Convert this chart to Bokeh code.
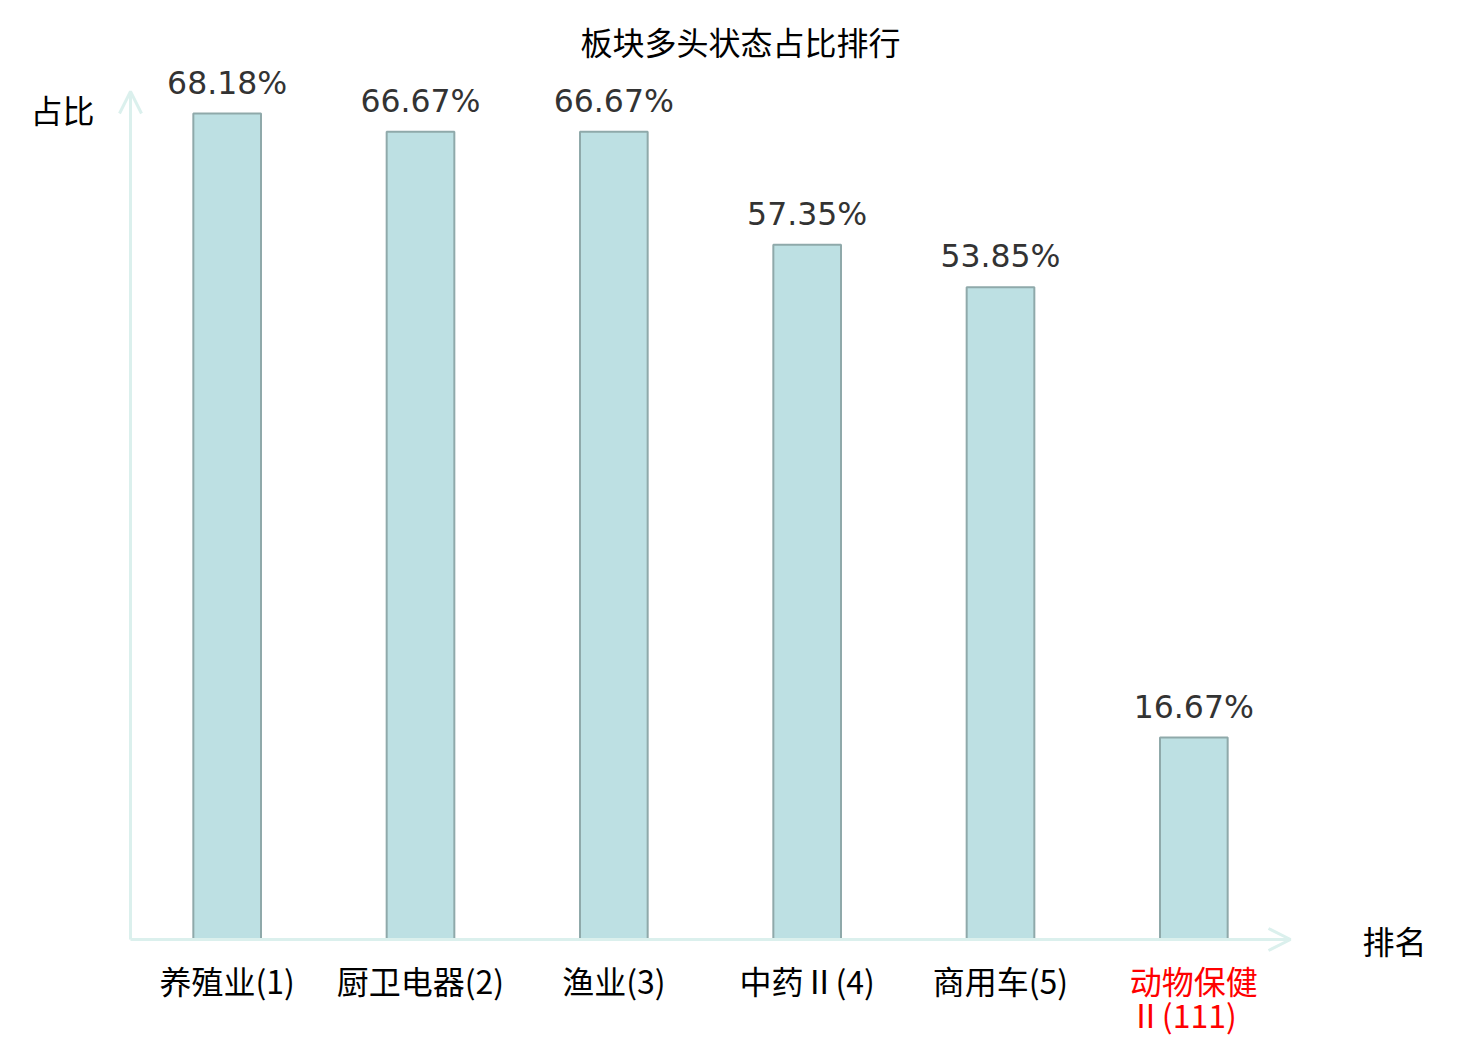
from bokeh.plotting import figure
from bokeh.models import ColumnDataSource, LabelSet, Label, Arrow, OpenHead, Range1d
from bokeh.embed import file_html
from bokeh.resources import INLINE
from bokeh.core.properties import value

# ---- data ----
title_text = "板块多头状态占比排行"
y_axis_title = "占比"
x_axis_title = "排名"
sectors = ["养殖业", "厨卫电器", "渔业", "中药Ⅱ", "商用车", "动物保健Ⅱ"]
ranks = [1, 2, 3, 4, 5, 111]
ratios = [68.18, 66.67, 66.67, 57.35, 53.85, 16.67]
tick_labels = ["养殖业(1)", "厨卫电器(2)", "渔业(3)", "中药Ⅱ(4)", "商用车(5)", "动物保健\nⅡ(111)"]
highlight_index = 5
y_max = 70

# ---- layout (pixels) ----
W, H = 1472, 1038
PLOT_LEFT, PLOT_RIGHT, PLOT_TOP, PLOT_BOTTOM = 130, 1290, 91, 939

n = len(sectors)
categories = [f"{s}({r})" for s, r in zip(sectors, ranks)]
xs = list(range(n))
label_colors = ["#ff0000" if i == highlight_index else "#000000" for i in range(n)]

ux = (PLOT_RIGHT - PLOT_LEFT) / n          # pixels per category
uy = (PLOT_BOTTOM - PLOT_TOP) / y_max      # pixels per percent
x_left_edge, x_right_edge = -0.5, n - 0.5
x_range = Range1d(x_left_edge - PLOT_LEFT / ux, x_right_edge + (W - PLOT_RIGHT) / ux)
y_range = Range1d(-(H - PLOT_BOTTOM) / uy, y_max + PLOT_TOP / uy)

src = ColumnDataSource(dict(
    x=xs,
    cat=categories,
    ratio=ratios,
    vlabel=[f"{v:.2f}%" for v in ratios],
    tlabel=tick_labels,
    zero=[0] * n,
    tcolor=label_colors,
))

CJK = "Noto Sans CJK SC"
axis_color = "#dbf0ed"

p = figure(
    width=W, height=H,
    x_range=x_range, y_range=y_range,
    x_axis_location=None, y_axis_location=None,
    output_backend="svg", toolbar_location=None,
    min_border=0, min_border_left=0, min_border_right=0,
    min_border_top=0, min_border_bottom=0,
    title=None,
)
p.outline_line_color = None
p.xgrid.visible = False
p.ygrid.visible = False
p.background_fill_color = "white"
p.border_fill_color = "white"

p.vbar(x="x", top="ratio", width=0.35, source=src,
       fill_color="#bde0e3", line_color="#8fa9aa", line_width=2)

# axes drawn as arrows
p.add_layout(Arrow(x_start=x_left_edge, y_start=0, x_end=x_right_edge, y_end=0,
                   line_color=axis_color, line_width=3, start=None,
                   end=OpenHead(size=22, line_color=axis_color, line_width=3)))
p.add_layout(Arrow(x_start=x_left_edge, y_start=0, x_end=x_left_edge, y_end=y_max,
                   line_color=axis_color, line_width=3, start=None,
                   end=OpenHead(size=22, line_color=axis_color, line_width=3)))

# value labels
p.add_layout(LabelSet(x="x", y="ratio", text="vlabel", source=src,
                      y_offset=20, text_align="center", text_baseline="alphabetic",
                      text_font=value("DejaVu Sans"), text_font_size="31.5px",
                      text_color="#333333"))

# category labels
p.add_layout(LabelSet(x="x", y="zero", text="tlabel", source=src,
                      y_offset=-17, text_align="center", text_baseline="top",
                      text_font=value(CJK), text_font_size="32px",
                      text_color="tcolor", text_line_height=0.76))

# axis titles
p.add_layout(Label(x=x_right_edge, y=0, text=x_axis_title, x_offset=72,
                   text_align="left", text_baseline="middle",
                   text_font=CJK, text_font_size="32px", text_color="#000000"))
p.add_layout(Label(x=x_left_edge, y=y_max, text=y_axis_title, x_offset=-68, y_offset=-17,
                   text_align="center", text_baseline="middle",
                   text_font=CJK, text_font_size="32px", text_color="#000000"))

# chart title
p.add_layout(Label(x=(x_left_edge + x_right_edge) / 2, y=y_max, text=title_text,
                   x_offset=30, y_offset=51,
                   text_align="center", text_baseline="middle",
                   text_font=CJK, text_font_size="32px", text_color="#000000"))

open("out.html", "w").write(file_html(p, INLINE))
